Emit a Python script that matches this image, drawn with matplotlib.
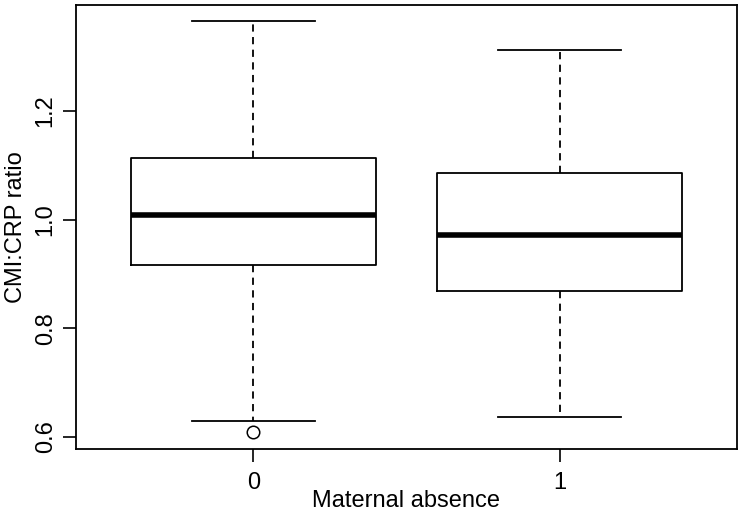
import matplotlib
matplotlib.use("Agg")
import matplotlib.pyplot as plt

plt.rcParams['font.family'] = ['Liberation Sans', 'DejaVu Sans']

groups = ["0", "1"]
whislo = [0.629, 0.637]
q1 = [0.916, 0.868]
med = [1.009, 0.971]
q3 = [1.114, 1.086]
whishi = [1.365, 1.312]
fliers = [[0.609], []]

stats = []
for i, g in enumerate(groups):
    stats.append(dict(label=g, whislo=whislo[i], q1=q1[i], med=med[i],
                      q3=q3[i], whishi=whishi[i], fliers=fliers[i]))

fig = plt.figure(figsize=(7.42, 5.13), dpi=100)
ax = fig.add_axes([76/742, 1 - 449/513, (737 - 76)/742, (449 - 5)/513])

ax.bxp(stats, positions=[1, 2], widths=0.8, showfliers=True,
       boxprops=dict(color="black", linewidth=1.3),
       medianprops=dict(color="black", linewidth=4, solid_capstyle="butt"),
       whiskerprops=dict(color="black", linewidth=1.3, linestyle=(0, (4, 3))),
       capprops=dict(color="black", linewidth=1.3),
       flierprops=dict(marker="o", markerfacecolor="none", markeredgecolor="black",
                       markersize=9, markeredgewidth=1.1))

ax.set_xlim(0.42, 2.58)
ax.set_ylim(0.578, 1.3945)
ax.set_yticks([0.6, 0.8, 1.0, 1.2])
ax.set_yticklabels(["0.6", "0.8", "1.0", "1.2"], rotation=90, va="center")
ax.set_xticks([1, 2])
ax.set_xticklabels(groups)
ax.tick_params(length=9.4, width=1.2, labelsize=17)
ax.tick_params(axis="x", pad=7)
ax.tick_params(axis="y", pad=4.5)
for s in ax.spines.values():
    s.set_linewidth(1.3)

ax.set_xlabel("Maternal absence", fontsize=17, va="baseline")
ax.xaxis.set_label_coords(0.5, (449 - 507) / 444)
ax.set_ylabel("CMI:CRP ratio", fontsize=17, va="center")
ax.yaxis.set_label_coords((16 - 76) / 661, 0.5)

fig.savefig("out.png", dpi=100)
